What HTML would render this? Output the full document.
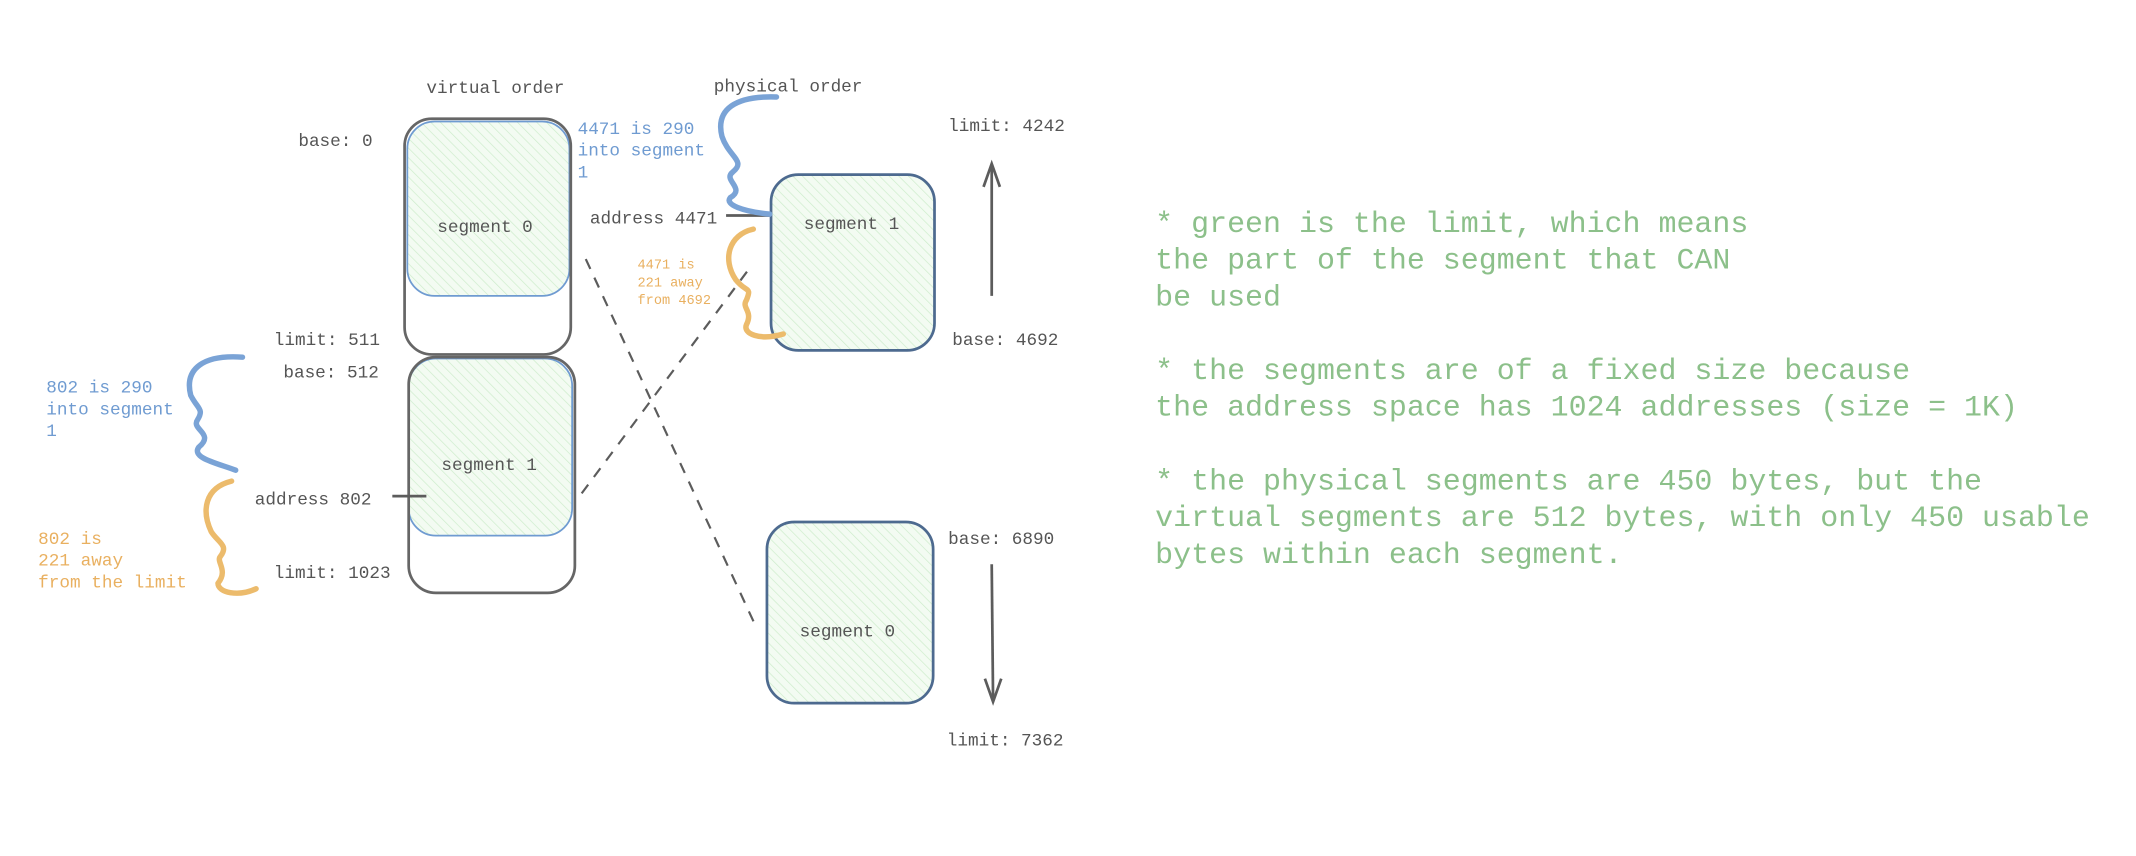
<!DOCTYPE html>
<html><head><style>
html,body{margin:0;padding:0;background:#fff;width:2136px;height:856px;overflow:hidden}
svg{display:block}
text{font-family:"Liberation Mono",monospace}
</style></head><body>
<svg width="2136" height="856" viewBox="0 0 1568 628" xmlns="http://www.w3.org/2000/svg">
<defs>
<pattern id="h" width="5" height="5" patternUnits="userSpaceOnUse" patternTransform="rotate(-45)">
<rect width="5" height="5" fill="#f3fbf2"/><line x1="0" y1="0" x2="0" y2="5" stroke="#cdeccb" stroke-width="1"/>
</pattern>
</defs>
<g fill="none" stroke="#5c5c5c" stroke-width="2">
<!-- virtual seg 0 -->
<rect x="299" y="89" width="119" height="128" rx="20" fill="url(#h)" stroke="#6f9bd1" stroke-width="1.3"/>
<rect x="297" y="87" width="122" height="173" rx="20" stroke="#666"/>
<!-- virtual seg 1 -->
<rect x="300" y="263" width="120" height="130" rx="20" fill="url(#h)" stroke="#6f9bd1" stroke-width="1.3"/>
<rect x="300" y="262" width="122" height="173" rx="20" stroke="#666"/>
<!-- physical seg1 -->
<rect x="566" y="128" width="120" height="129" rx="20" fill="url(#h)" stroke="#4d6a8f" stroke-width="2"/>
<!-- physical seg0 -->
<rect x="563" y="383" width="122" height="133" rx="20" fill="url(#h)" stroke="#4d6a8f" stroke-width="2"/>
<!-- address lines -->
<line x1="288" y1="364" x2="313" y2="364"/>
<line x1="533" y1="158" x2="565" y2="158"/>
<!-- dashed -->
<line x1="430" y1="190" x2="555" y2="460" stroke-dasharray="8 7" stroke-width="1.6"/>
<line x1="427" y1="362" x2="550" y2="197" stroke-dasharray="8 7" stroke-width="1.6"/>
<!-- arrows -->
<line x1="728" y1="217" x2="728" y2="121"/>
<path d="M722 137 L728 120 L734 137"/>
<line x1="728" y1="414" x2="729" y2="514"/>
<path d="M723 498 L729 515 L735 498"/>
</g>
<!-- squiggles -->
<g fill="none" stroke-width="4" stroke-linecap="round" stroke-linejoin="round">
<path d="M570 71 C540 70 525 80 530 100 C535 115 548 118 538 126 C530 132 548 138 536 145 C532 150 545 155 565 157" stroke="#7aa3d6"/>
<path d="M178 262 C150 260 135 270 140 290 C145 300 150 300 145 308 C140 315 158 318 146 328 C140 336 160 340 173 345" stroke="#7aa3d6"/>
<path d="M553 168 C535 172 530 190 540 205 C548 215 552 210 548 220 C544 226 553 228 548 238 C545 245 558 250 575 245" stroke="#ecbb6c"/>
<path d="M170 353 C150 358 148 375 155 390 C160 398 168 400 162 408 C158 412 168 418 160 428 C160 435 175 438 188 432" stroke="#ecbb6c"/>
</g>
<g font-size="13" fill="#555">
<text x="313" y="68">virtual order</text>
<text x="524" y="67">physical order</text>
<text x="219" y="107">base: 0</text>
<text x="201" y="253">limit: 511</text>
<text x="208" y="277">base: 512</text>
<text x="187" y="370">address 802</text>
<text x="201" y="424">limit: 1023</text>
<text x="321" y="170">segment 0</text>
<text x="324" y="345">segment 1</text>
<text x="433" y="164">address 4471</text>
<text x="590" y="168">segment 1</text>
<text x="587" y="467">segment 0</text>
<text x="696" y="96">limit: 4242</text>
<text x="699" y="253">base: 4692</text>
<text x="696" y="399">base: 6890</text>
<text x="695" y="547">limit: 7362</text>
</g>
<g font-size="13" fill="#6f9bd1">
<text x="424" y="98">4471 is 290</text>
<text x="424" y="114">into segment</text>
<text x="424" y="130">1</text>
<text x="34" y="288">802 is 290</text>
<text x="34" y="304">into segment</text>
<text x="34" y="320">1</text>
</g>
<g font-size="13" fill="#e9b060">
<text x="28" y="399">802 is</text>
<text x="28" y="415">221 away</text>
<text x="28" y="431">from the limit</text>
</g>
<g font-size="10" fill="#e9b060">
<text x="468" y="197">4471 is</text>
<text x="468" y="210">221 away</text>
<text x="468" y="223">from 4692</text>
</g>
<g font-size="22" fill="#8cc08a">
<text x="848" y="170">* green is the limit, which means</text>
<text x="848" y="197">the part of the segment that CAN</text>
<text x="848" y="224">be used</text>
<text x="848" y="278">* the segments are of a fixed size because</text>
<text x="848" y="305">the address space has 1024 addresses (size = 1K)</text>
<text x="848" y="359">* the physical segments are 450 bytes, but the</text>
<text x="848" y="386">virtual segments are 512 bytes, with only 450 usable</text>
<text x="848" y="413">bytes within each segment.</text>
</g>
</svg>
</body></html>
